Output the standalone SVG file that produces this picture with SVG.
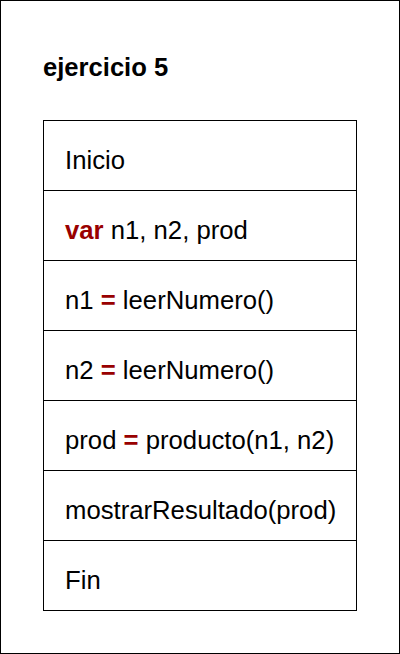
<svg xmlns="http://www.w3.org/2000/svg" width="400" height="654" viewBox="0 0 400 654">
<style>
.frame{fill:#ffffff;stroke:#000000;stroke-width:1}
.row{fill:#ffffff;stroke:#000000;stroke-width:1}
.t{font-family:"Liberation Sans",Arial,sans-serif;font-size:25.7px;fill:#000000}
.k{font-weight:bold;fill:#990000}
.title{font-family:"Liberation Sans",Arial,sans-serif;font-size:25.6px;font-weight:bold;fill:#000000}
</style>
<rect class="frame" x="0.5" y="0.5" width="399" height="653"/>
<text id="title" class="title" x="43" y="76">ejercicio 5</text>
<g id="n-inicio"><rect class="row" x="43.5" y="120.5" width="313" height="70"/><text class="t" x="65" y="169">Inicio</text></g>
<g id="n-var"><rect class="row" x="43.5" y="190.5" width="313" height="70"/><text class="t" x="65" y="239"><tspan class="k">var</tspan> n1, n2, prod</text></g>
<g id="n-n1"><rect class="row" x="43.5" y="260.5" width="313" height="70"/><text class="t" x="65" y="309">n1 <tspan class="k">=</tspan> leerNumero()</text></g>
<g id="n-n2"><rect class="row" x="43.5" y="330.5" width="313" height="70"/><text class="t" x="65" y="379">n2 <tspan class="k">=</tspan> leerNumero()</text></g>
<g id="n-prod"><rect class="row" x="43.5" y="400.5" width="313" height="70"/><text class="t" x="65" y="449">prod <tspan class="k">=</tspan> producto(n1, n2)</text></g>
<g id="n-mostrar"><rect class="row" x="43.5" y="470.5" width="313" height="70"/><text class="t" x="65" y="519">mostrarResultado(prod)</text></g>
<g id="n-fin"><rect class="row" x="43.5" y="540.5" width="313" height="70"/><text class="t" x="65" y="589">Fin</text></g>
<g id="connectors"/>
</svg>
